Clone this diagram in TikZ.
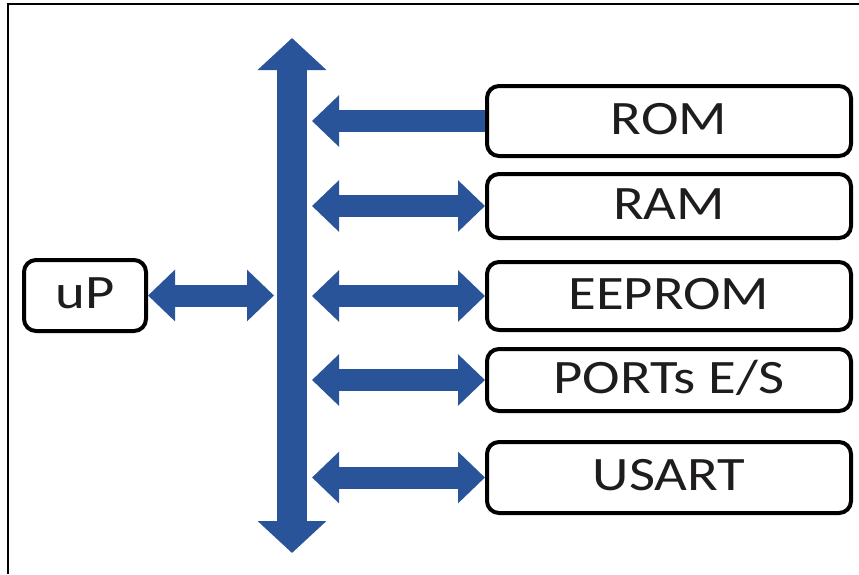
\documentclass[tikz,border=0pt]{standalone}
\usepackage{fontspec}
\usetikzlibrary{arrows.meta}
\newfontfamily\boxfont[FakeStretch=1.18]{Carlito}
\definecolor{busblue}{RGB}{42,84,154}
\definecolor{txtdark}{RGB}{30,28,28}
\tikzset{
  unitbox/.style={draw=black, line width=4pt, rounded corners=12pt, fill=white,
    inner sep=0pt, text=txtdark, text height=32pt, text depth=6pt,
    font=\boxfont\fontsize{48}{50}\selectfont},
  membox/.style={unitbox, minimum width=364pt},
  busline/.style={draw=busblue, line width=30pt},
  linkline/.style={draw=busblue, line width=22pt},
}
\begin{document}
\begin{tikzpicture}[x=1pt,y=-1pt]
\useasboundingbox (0,0) rectangle (859,574);
\fill[white] (0,0) rectangle (859,574);
% frame
\draw[line width=1.8pt, black] (8,574) |- (859,4);
% bus
\coordinate (bustop) at (292,38);
\coordinate (busbot) at (292,553);
\coordinate (busR) at (312,0);
\coordinate (busL) at (274,0);
\draw[busline, {Triangle[length=32pt,width=67pt]}-{Triangle[length=32pt,width=67pt]}] (busbot) -- (bustop);
% boxes
\node[unitbox, minimum width=122pt, minimum height=71pt] (uP) at (85,295.5) {uP};
\node[membox, minimum height=70pt] (ROM) at (669,121) {ROM};
\node[membox, minimum height=64pt] (RAM) at (669,206) {RAM};
\node[membox, minimum height=68pt] (EEPROM) at (669,296) {EEPROM};
\node[membox, minimum height=62pt] (PORTS) at (669,380) {PORTs E/S};
\node[membox, minimum height=71pt] (USART) at (669,477.5) {USART};
% links
\draw[linkline, -{Triangle[length=27pt,width=50pt]}] (ROM.west) -- (ROM.west -| busR);
\foreach \n in {RAM,EEPROM,PORTS,USART}
  \draw[linkline, {Triangle[length=27pt,width=50pt]}-{Triangle[length=27pt,width=50pt]}] (\n.west -| busR) -- (\n.west);
\draw[linkline, {Triangle[length=27pt,width=50pt]}-{Triangle[length=27pt,width=50pt]}] (uP.east) -- (uP.east -| busL);
\end{tikzpicture}
\end{document}
